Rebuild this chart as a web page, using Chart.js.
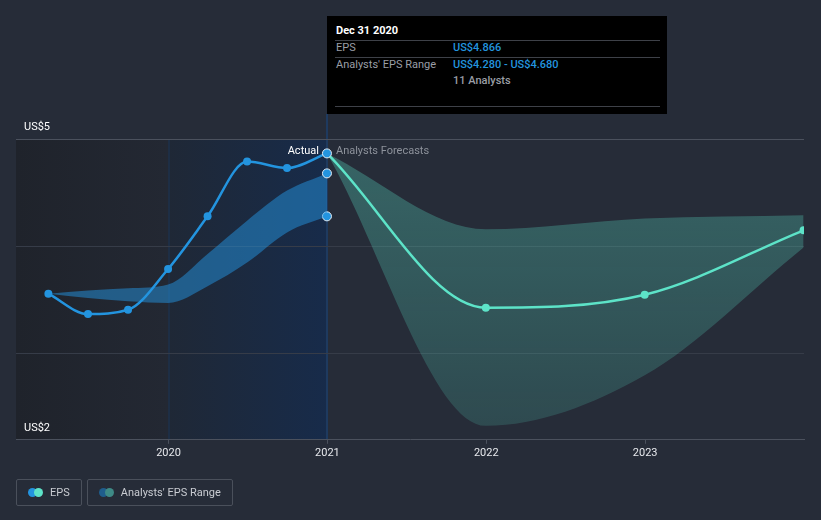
<!DOCTYPE html>
<html>
<head>
<meta charset="utf-8">
<script src="https://cdn.jsdelivr.net/npm/chart.js@4"></script>
<style>
  html, body { margin: 0; padding: 0; background: #262c38; }
  #wrap { position: relative; width: 821px; height: 520px; overflow: hidden; font-family: Roboto, "Noto Sans", sans-serif; }
  canvas { position: absolute; left: 0; top: 0; }
  #tip { position: absolute; left: 327px; top: 16px; width: 340px; height: 98px; background: #000; color: #9a9ea6; font-size: 11px; }
  #tip .row { position: absolute; left: 9px; white-space: nowrap; }
  #tip .val { position: absolute; left: 126px; white-space: nowrap; color: #2394df; font-weight: 500; }
  #tip .sep { position: absolute; left: 8px; width: 325px; height: 1px; background: #3e4148; }
  #legend { position: absolute; left: 16px; top: 479px; display: flex; gap: 5px; }
  .lg { box-sizing: border-box; height: 27px; border: 1px solid #4a505b; border-radius: 2px; display: flex; align-items: center; padding: 0 11px 0 11px; color: #c9ccd2; font-size: 11px; }
  .dots { position: relative; width: 15px; height: 9px; margin-right: 7px; }
  .dots span { position: absolute; top: 0; width: 9px; height: 9px; border-radius: 50%; }
</style>
</head>
<body>
<div id="wrap">
  <canvas id="c" width="821" height="520"></canvas>
  <div id="tip"></div>
  <div id="legend"></div>
</div>
<script>
// ---- data ----
const histDates      = ['2019-03-31','2019-06-30','2019-09-30','2019-12-31','2020-03-31','2020-06-30','2020-09-30','2020-12-31'];
const histEPS        = [3.56, 3.37, 3.41, 3.79, 4.28, 4.79, 4.73, 4.866];
const histRangeHigh  = [3.56, 3.59, 3.61, 3.645, 3.93, 4.24, 4.52, 4.68];
const histRangeLow   = [3.56, 3.52, 3.49, 3.474, 3.63, 3.85, 4.13, 4.28];

const fcDates        = ['2020-12-31','2021-12-31','2022-12-31','2023-12-31'];
const fcEPS          = [4.866, 3.43, 3.55, 4.15];
const fcRangeHigh    = [4.866, 4.16, 4.26, 4.29];
const fcRangeLow     = [4.866, 2.33, 2.80, 3.99];

const xTickYears     = [2020, 2021, 2022, 2023];
const xTickLabels    = ['2020', '2021', '2022', '2023'];
const yTickLabels    = ['US$2', 'US$5'];
const yLabelValues   = [2.2, 5];
const gridValues     = [3, 4, 5];

const tipTitle       = 'Dec 31 2020';
const tipAnalysts    = 11;
const legendLabels   = ['EPS', "Analysts' EPS Range"];

// ---- helpers ----
function decYear(s) {
  const d = new Date(s + 'T00:00:00Z');
  const y = d.getUTCFullYear();
  const start = Date.UTC(y, 0, 1), end = Date.UTC(y + 1, 0, 1);
  return y + (d.getTime() - start) / (end - start);
}
const pts = (dates, vals) => dates.map((d, i) => ({ x: decYear(d), y: vals[i] }));
const BLUE = '#2394df', TEAL = '#5de3c8';
const lastH = histDates.length - 1;

// tooltip (built from data)
const fmt = v => 'US$' + v.toFixed(3);
document.getElementById('tip').innerHTML =
  `<div class="row" style="top:8px;color:#fff;font-weight:700">${tipTitle}</div>
   <div class="sep" style="top:24px"></div>
   <div class="row" style="top:25px">EPS</div><div class="val" style="top:25px">${fmt(histEPS[lastH])}</div>
   <div class="sep" style="top:41px"></div>
   <div class="row" style="top:42px">Analysts' EPS Range</div><div class="val" style="top:42px">${fmt(histRangeLow[lastH])} - ${fmt(histRangeHigh[lastH])}</div>
   <div class="val" style="top:58px;color:#9a9ea6">${tipAnalysts} Analysts</div>
   <div class="sep" style="top:90px"></div>`;

document.getElementById('legend').innerHTML =
  `<div class="lg"><div class="dots"><span style="left:0;background:${BLUE}"></span><span style="left:6px;background:${TEAL}"></span></div>${legendLabels[0]}</div>
   <div class="lg"><div class="dots"><span style="left:0;background:#1f5d8c"></span><span style="left:6px;background:#3e8a86"></span></div>${legendLabels[1]}</div>`;

const bgPlugin = {
  id: 'bg',
  beforeDraw(chart) {
    const { ctx, chartArea: a, scales: { x } } = chart;
    const x0 = x.getPixelForValue(xTickYears[0]);
    const x1 = x.getPixelForValue(decYear(histDates[lastH]));
    ctx.save();
    let g = ctx.createLinearGradient(a.left, 0, x0, 0);
    g.addColorStop(0, '#1f232b'); g.addColorStop(1, '#232833');
    ctx.fillStyle = g; ctx.fillRect(a.left, a.top, x0 - a.left, a.bottom - a.top);
    g = ctx.createLinearGradient(x0, 0, x1, 0);
    g.addColorStop(0, '#1f2836'); g.addColorStop(1, '#172b4a');
    ctx.fillStyle = g; ctx.fillRect(x0, a.top, x1 - x0, a.bottom - a.top);
    ctx.fillStyle = '#1d3554';
    ctx.fillRect(Math.round(x0) - 0.5, a.top, 1, a.bottom - a.top);
    ctx.fillStyle = '#1e3a5f';
    ctx.fillRect(Math.round(x1) - 1, 114, 2, a.bottom - 114);
    ctx.restore();
  },
  afterDraw(chart) {
    const { ctx, chartArea: a, scales: { x, y } } = chart;
    ctx.save();
    ctx.font = '11px Roboto';
    ctx.textBaseline = 'middle';
    ctx.fillStyle = '#ffffff';
    ctx.textAlign = 'left';
    yLabelValues.forEach((v, i) => {
      ctx.fillText(yTickLabels[i], 24, y.getPixelForValue(v) - 11.5);
    });
    const xs = x.getPixelForValue(decYear(histDates[lastH]));
    ctx.textAlign = 'right';
    ctx.fillText('Actual', xs - 8, a.top + 12.5);
    ctx.textAlign = 'left';
    ctx.fillStyle = '#8d929b';
    ctx.fillText('Analysts Forecasts', xs + 9, a.top + 12.5);
    ctx.restore();
  }
};

const tealGrad = (ctx) => {
  const ch = ctx.chart, a = ch.chartArea;
  if (!a) return 'rgba(91,225,200,0.25)';
  const g = ch.ctx.createLinearGradient(0, a.top, 0, a.bottom);
  g.addColorStop(0, 'rgba(91,225,200,0.32)');
  g.addColorStop(1, 'rgba(91,225,200,0.16)');
  return g;
};
const endOnly = (n, r) => (c) => c.dataIndex === n ? r : 0;

new Chart(document.getElementById('c'), {
  type: 'line',
  data: {
    datasets: [
      { label: 'EPS', data: pts(histDates, histEPS), borderColor: BLUE, borderWidth: 2.5,
        pointBackgroundColor: BLUE, pointBorderColor: c => c.dataIndex === lastH ? '#e6eef6' : BLUE,
        pointBorderWidth: c => c.dataIndex === lastH ? 1 : 0,
        pointRadius: c => c.dataIndex === lastH ? 4.5 : 4, fill: false, order: 0 },
      { label: 'EPS forecast', data: pts(fcDates, fcEPS), borderColor: TEAL, borderWidth: 2.5,
        pointBackgroundColor: TEAL, pointBorderWidth: 0,
        pointRadius: c => c.dataIndex === 0 ? 0 : 4, fill: false, order: 1 },
      { label: 'range high', data: pts(histDates, histRangeHigh), borderWidth: 0, borderColor: 'transparent',
        backgroundColor: 'rgba(35,148,223,0.5)', fill: '+1',
        pointBackgroundColor: BLUE, pointBorderColor: '#e6eef6', pointBorderWidth: 1,
        pointRadius: endOnly(lastH, 4.5), order: 2 },
      { label: 'range low', data: pts(histDates, histRangeLow), borderWidth: 0, borderColor: 'transparent',
        fill: false, pointBackgroundColor: BLUE, pointBorderColor: '#e6eef6', pointBorderWidth: 1,
        pointRadius: endOnly(lastH, 4.5), order: 3 },
      { label: 'fc high', data: pts(fcDates, fcRangeHigh), borderWidth: 0, borderColor: 'transparent',
        backgroundColor: tealGrad, fill: '+1', pointRadius: 0, order: 4 },
      { label: 'fc low', data: pts(fcDates, fcRangeLow), borderWidth: 0, borderColor: 'transparent',
        fill: false, pointRadius: 0, order: 5 }
    ]
  },
  options: {
    responsive: false,
    animation: false,
    events: [],
    layout: { padding: { left: 16, right: 17, top: 139, bottom: 57 } },
    elements: { line: { cubicInterpolationMode: 'monotone' } },
    plugins: { legend: { display: false }, tooltip: { enabled: false } },
    scales: {
      x: {
        type: 'linear', min: 2019.04, max: 2024.0,
        afterBuildTicks: s => { s.ticks = xTickYears.map(v => ({ value: v })); },
        ticks: { callback: (v) => xTickLabels[xTickYears.indexOf(v)] ?? '', color: '#e6e8ec',
                 font: { family: 'Roboto', size: 11 }, padding: 3, maxRotation: 0, autoSkip: false },
        grid: { drawOnChartArea: false, drawTicks: true, tickLength: 4, color: '#4b515d' },
        border: { display: true, color: '#4b515d', width: 1 }
      },
      y: {
        min: 2.2, max: 5,
        afterBuildTicks: s => { s.ticks = gridValues.map(v => ({ value: v })); },
        ticks: { display: false },
        grid: { drawTicks: false, color: c => c.tick && c.tick.value === 5 ? '#4b515d' : '#363c48' },
        border: { display: false }
      }
    }
  },
  plugins: [bgPlugin]
});
</script>
</body>
</html>
